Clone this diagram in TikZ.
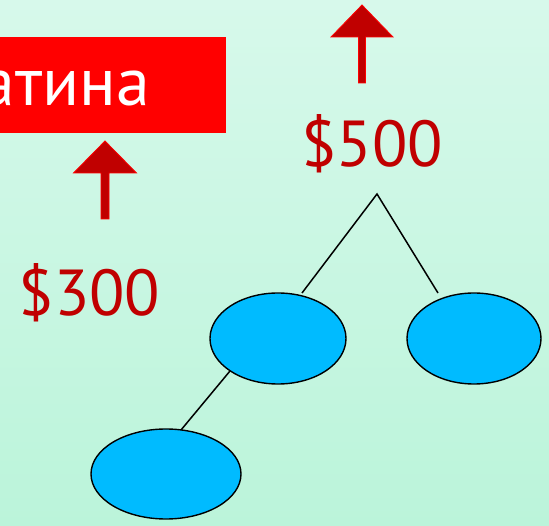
\documentclass[tikz,border=0pt]{standalone}
\usepackage{fontspec}
\setmainfont{PT Sans}
\usetikzlibrary{shapes.geometric}
\definecolor{bgtop}{HTML}{D7F9EB}
\definecolor{bgbot}{HTML}{BBF4DA}
\definecolor{darkred}{HTML}{C00000}
\definecolor{leafblue}{HTML}{00BBFF}
\tikzset{
  leaf/.style={ellipse, draw=black, line width=1.4pt, fill=leafblue, inner sep=0pt},
  price/.style={text=darkred, font=\fontsize{65}{78}\selectfont, inner sep=0pt, anchor=base},
  branch/.style={draw=black, line width=1.5pt},
  uparrow/.style={fill=darkred, draw=red, line width=0.8pt, line join=miter},
}
\begin{document}
\begin{tikzpicture}[x=1pt,y=-1pt]
\shade[top color=bgtop, bottom color=bgbot] (0,0) rectangle (549,526);
\useasboundingbox (0,0) rectangle (549,526);
\begin{scope}
\clip (0,0) rectangle (549,526);
\fill[red] (-10,37) rectangle (226,133);
\node[text=white, font=\fontsize{68}{80}\selectfont, inner sep=0pt, anchor=base east] (title) at (150,106) {атина};
\end{scope}
% arrows
\draw[uparrow] (101,219) -- (101,173) -- (73.5,173) -- (105,141) -- (136.5,173) -- (109,173) -- (109,219) -- cycle;
\draw[uparrow] (358.5,83) -- (358.5,37) -- (331,37) -- (362,5) -- (393,37) -- (365.5,37) -- (365.5,83) -- cycle;
% prices
\node[price] (p500) at (372,167) {\$500};
\node[price] (p300) at (89.5,316) {\$300};
% tree
\node[leaf, minimum width=136pt, minimum height=91pt] (e1) at (278,338.5) {};
\node[leaf, minimum width=134pt, minimum height=91pt] (e2) at (474,338.5) {};
\node[leaf, minimum width=150pt, minimum height=90pt] (e3) at (166,474) {};
\coordinate (apex) at (377,194);
\coordinate (l1) at (302,293);
\coordinate (r1) at (438,293);
\coordinate (d1) at (230,371);
\coordinate (d2) at (181,430);
\draw[branch] (l1) -- (apex) -- (r1);
\draw[branch] (d1) -- (d2);
\end{tikzpicture}
\end{document}
